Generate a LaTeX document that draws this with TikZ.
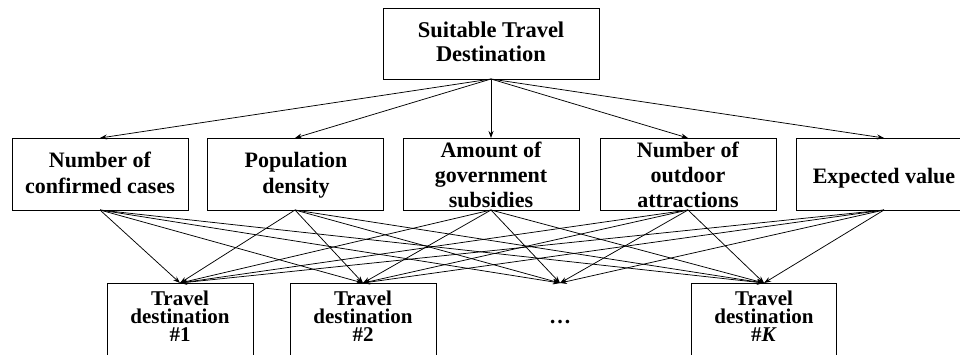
\documentclass[tikz,border=0pt]{standalone}
\usepackage{fontspec}
\setmainfont{Liberation Serif}
\usetikzlibrary{arrows.meta}
\newcommand\mystrut{\rule{0pt}{16pt}}
\begin{document}
\begin{tikzpicture}[x=1pt,y=-1pt,
  box/.style={draw, line width=1pt, inner sep=0pt, outer sep=0pt},
  lbl/.style={font=\fontsize{22}{26}\selectfont\bfseries, align=center, inner sep=0pt, outer sep=0pt, anchor=north},
  blbl/.style={lbl, font=\fontsize{21}{18.3}\selectfont\bfseries},
  arr/.style={line width=0.75pt, -{Stealth[length=7pt,width=5pt]}}]
\clip (0,0) rectangle (960,354);
% top
\node[box, minimum width=216pt, minimum height=71pt] (top) at (491,43.5) {};
\node[lbl, font=\fontsize{22.5}{24}\selectfont\bfseries] (ttop) at (491,21.7) {\mystrut Suitable Travel\\Destination};
% middle boxes
\foreach \n/\x in {m1/100, m2/295, m3/491, m4/688, m5/884}
  \node[box, minimum width=176pt, minimum height=72pt] (\n) at (\x,174) {};
\node[lbl] (t1) at (100,151) {\mystrut Number of\\confirmed cases};
\node[lbl] (t2) at (296,151) {\mystrut Population\\density};
\node[lbl, font=\fontsize{22}{25}\selectfont\bfseries] (t3) at (491,141) {\mystrut Amount of\\government\\subsidies};
\node[lbl, font=\fontsize{22}{25}\selectfont\bfseries] (t4) at (688,141) {\mystrut Number of\\outdoor\\attractions};
\node[lbl] (t5) at (884,167) {\mystrut Expected value};
% bottom boxes
\node[box, minimum width=146pt, minimum height=97pt] (d1) at (180,331.5) {};
\node[box, minimum width=146pt, minimum height=97pt] (d2) at (363,331.5) {};
\node[box, minimum width=145pt, minimum height=97pt] (dK) at (764,331.5) {};
\coordinate (dd) at (560,283);
\node[blbl] (b1) at (180,289) {\mystrut Travel\\destination\\\#1};
\node[blbl] (b2) at (363,289) {\mystrut Travel\\destination\\\#2};
\node[blbl] (bK) at (764,289) {\mystrut Travel\\destination\\\#\textit{K}};
\node[font=\fontsize{22}{26}\selectfont\bfseries, inner sep=0pt, anchor=base] (dots) at (560,323) {…};
% arrows
\foreach \n in {m1,m2,m3,m4,m5}
  \draw[arr] (top.south) -- (\n.north);
\foreach \n in {m1,m2,m3,m4,m5}
  \foreach \d in {d1,d2,dd,dK}
    \draw[arr] (\n.south) -- (\d|-d1.north);
\end{tikzpicture}
\end{document}
